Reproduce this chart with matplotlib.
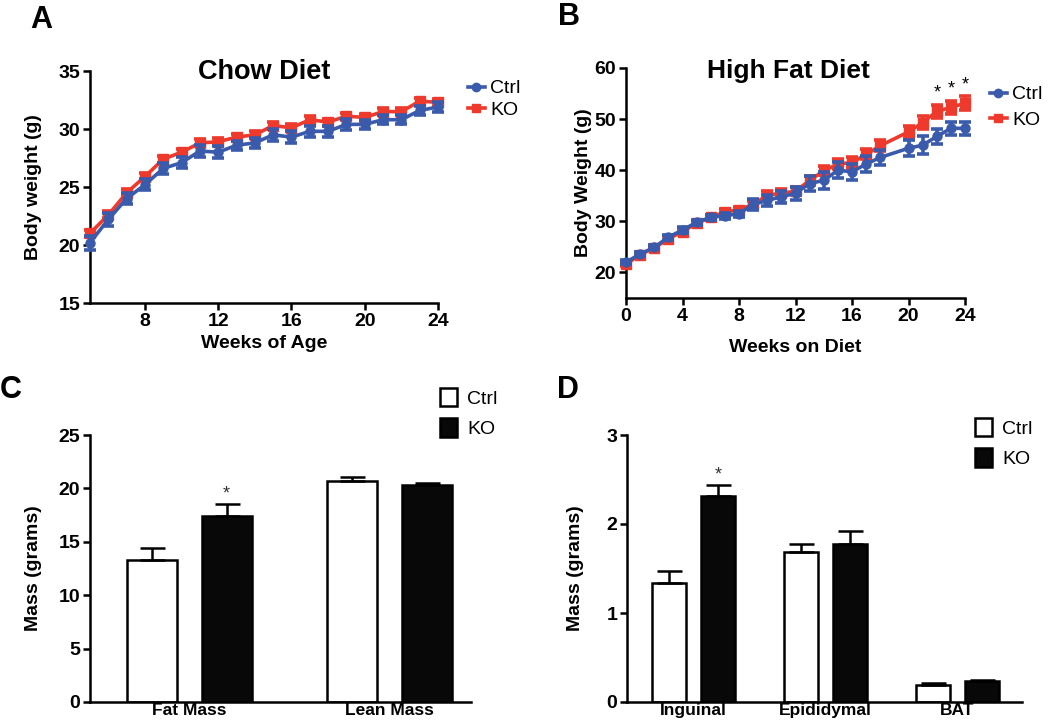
import numpy as np
import matplotlib.pyplot as plt
from matplotlib.lines import Line2D

plt.rcParams['font.family'] = ['Liberation Sans', 'DejaVu Sans']

# ---- dados ----
# A: dieta chow, semanas de idade
semanas_a = list(range(5, 25))
ko_a = [21.0, 22.6, 24.5, 25.9, 27.4, 28.0, 28.8, 28.9, 29.3, 29.5,
        30.3, 30.1, 30.8, 30.6, 31.1, 31.0, 31.5, 31.5, 32.4, 32.3]
ko_a_err = [0.3, 0.3, 0.3, 0.3, 0.3, 0.3, 0.3, 0.3, 0.3, 0.3,
            0.3, 0.3, 0.3, 0.3, 0.3, 0.3, 0.3, 0.3, 0.3, 0.3]
ctrl_a = [20.2, 22.2, 24.0, 25.2, 26.6, 27.1, 28.1, 28.0, 28.6, 28.8,
          29.5, 29.3, 29.8, 29.8, 30.4, 30.4, 30.8, 30.8, 31.6, 31.9]
ctrl_a_err = [0.6, 0.6, 0.5, 0.5, 0.5, 0.5, 0.5, 0.5, 0.4, 0.4,
              0.5, 0.5, 0.5, 0.5, 0.5, 0.4, 0.4, 0.4, 0.4, 0.4]

# B: dieta rica em gordura, semanas na dieta (sem semana 19)
semanas_b = list(range(0, 19)) + [20, 21, 22, 23, 24]
ko_b = [21.6, 23.5, 24.8, 26.6, 28.0, 29.6, 30.8, 31.8, 32.3, 33.3, 35.1, 35.5,
        35.9, 38.0, 39.9, 41.2, 41.5, 43.1, 44.8, 47.5, 49.3, 51.5, 52.3, 53.1]
ko_b_err = [0.4, 0.4, 0.4, 0.5, 0.5, 0.5, 0.5, 0.6, 0.6, 0.7, 0.8, 0.8,
            0.8, 0.9, 0.9, 1.0, 1.0, 1.0, 1.1, 1.2, 1.3, 1.3, 1.3, 1.4]
ctrl_b = [22.0, 23.6, 24.9, 26.9, 28.3, 29.8, 30.8, 31.1, 31.5, 33.3, 34.1, 34.8,
          35.5, 37.4, 38.0, 40.0, 39.7, 41.2, 42.5, 44.3, 44.9, 46.6, 48.2, 48.2]
ctrl_b_err = [0.4, 0.4, 0.4, 0.5, 0.5, 0.5, 0.5, 0.6, 0.6, 1.1, 1.1, 1.2,
              1.3, 1.4, 1.6, 1.6, 1.6, 1.6, 1.5, 1.6, 1.7, 1.5, 1.3, 1.3]
estrelas_b = [22, 23, 24]

# C: massa de gordura e magra
cat_c = ['Fat Mass', 'Lean Mass']
ctrl_c = [13.3, 20.7]
ctrl_c_err = [1.1, 0.4]
ko_c = [17.4, 20.3]
ko_c_err = [1.1, 0.25]

# D: depósitos de gordura
cat_d = ['Inguinal', 'Epididymal', 'BAT']
ctrl_d = [1.34, 1.69, 0.19]
ctrl_d_err = [0.13, 0.08, 0.02]
ko_d = [2.32, 1.77, 0.24]
ko_d_err = [0.12, 0.15, 0.01]

azul = '#3a5aab'
vermelho = '#ee3a2c'

W, H = 1050, 723
fig = plt.figure(figsize=(W / 100, H / 100), dpi=100)


def eixo(esq, dir, topo, base):
    # cria eixo a partir de coordenadas em pixels
    return fig.add_axes([esq / W, 1 - base / H, (dir - esq) / W, (base - topo) / H])


def estilo(ax):
    for s in ['top', 'right']:
        ax.spines[s].set_visible(False)
    for s in ['left', 'bottom']:
        ax.spines[s].set_linewidth(1.8)
    ax.tick_params(direction='out', width=1.8, length=5, labelsize=14, pad=2)
    for t in ax.get_xticklabels() + ax.get_yticklabels():
        t.set_fontweight('bold')


def linhas(ax, x, ko, ko_err, ctrl, ctrl_err):
    ax.errorbar(x, ko, yerr=ko_err, color=vermelho, marker='s', ms=6.5, lw=2.6,
                elinewidth=2.6, capsize=4, capthick=2.6, clip_on=False, zorder=3)
    ax.errorbar(x, ctrl, yerr=ctrl_err, color=azul, marker='o', ms=6.5, lw=2.6,
                elinewidth=2.6, capsize=4, capthick=2.6, clip_on=False, zorder=4)
    h = [Line2D([], [], color=azul, marker='o', ms=6, lw=2.6),
         Line2D([], [], color=vermelho, marker='s', ms=6, lw=2.6)]
    return h, ['Ctrl', 'KO']


# ---- A ----
axA = eixo(90, 438, 71, 303)
h, l = linhas(axA, semanas_a, ko_a, ko_a_err, ctrl_a, ctrl_a_err)
axA.set_xlim(5, 24)
axA.set_ylim(15, 35)
axA.set_xticks([8, 12, 16, 20, 24])
axA.set_yticks([15, 20, 25, 30, 35])
axA.set_xlabel('Weeks of Age', fontsize=14, fontweight='bold', labelpad=4)
axA.set_ylabel('Body weight (g)', fontsize=14, fontweight='bold', labelpad=12)
axA.set_title('Chow Diet', fontsize=19.5, fontweight='bold', x=0.5, y=0.93)
estilo(axA)
axA.legend(h, l, loc='upper left', bbox_to_anchor=(458 / W, 1 - 70 / H),
           bbox_transform=fig.transFigure, frameon=False, fontsize=14,
           handlelength=0.9, handletextpad=0.25, labelspacing=0.2, borderpad=0)

# ---- B ----
axB = eixo(626, 965, 68, 298)
h, l = linhas(axB, semanas_b, ko_b, ko_b_err, ctrl_b, ctrl_b_err)
for s in estrelas_b:
    i = semanas_b.index(s)
    axB.text(s, ko_b[i] + ko_b_err[i] + 0.6, '*', ha='center', va='bottom', fontsize=13)
axB.set_xlim(0, 24)
axB.set_ylim(15, 60)
axB.set_xticks(range(0, 25, 4))
axB.set_yticks(range(20, 61, 10))
axB.set_xlabel('Weeks on Diet', fontsize=14, fontweight='bold', labelpad=10)
axB.set_ylabel('Body Weight (g)', fontsize=14, fontweight='bold', labelpad=2)
axB.set_title('High Fat Diet', fontsize=19, fontweight='bold', x=0.48, y=0.92)
estilo(axB)
axB.legend(h, l, loc='upper left', bbox_to_anchor=(980 / W, 1 - 76 / H),
           bbox_transform=fig.transFigure, frameon=False, fontsize=14,
           handlelength=0.9, handletextpad=0.25, labelspacing=0.4, borderpad=0)


def barras(ax, cats, ctrl, ctrl_err, ko, ko_err, desloc, larg):
    x = np.arange(len(cats))
    kw = dict(edgecolor='black', linewidth=1.8, width=larg,
              error_kw=dict(ecolor='black', elinewidth=1.8, capsize=9, capthick=1.8))
    ax.bar(x - desloc, ctrl, yerr=[np.zeros(len(cats)), ctrl_err], color='white',
           label='Ctrl', **kw)
    ax.bar(x + desloc, ko, yerr=[np.zeros(len(cats)), ko_err], color='#080808',
           label='KO', **kw)
    ax.set_xticks(x)
    ax.set_xticklabels(cats)
    return x


# ---- C ----
axC = eixo(90, 471, 435, 702)
x = barras(axC, cat_c, ctrl_c, ctrl_c_err, ko_c, ko_c_err, 0.1875, 0.25)
axC.text(x[0] + 0.1875, ko_c[0] + ko_c_err[0] + 0.2, '*', ha='center', va='bottom',
         fontsize=13, color='#333333')
axC.set_xlim(-0.495, 1.41)
axC.set_ylim(0, 25)
axC.set_yticks(range(0, 26, 5))
axC.set_ylabel('Mass (grams)', fontsize=14, fontweight='bold', labelpad=12)
estilo(axC)
axC.tick_params(axis='x', length=0, pad=0.5, labelsize=12.5)
axC.legend(loc='upper left', bbox_to_anchor=(430 / W, 1 - 378 / H),
           bbox_transform=fig.transFigure, frameon=False, fontsize=14,
           handlelength=0.9, handleheight=1.1, handletextpad=0.5, labelspacing=0.55,
           borderpad=0)

# ---- D ----
axD = eixo(627, 1022, 435, 702)
x = barras(axD, cat_d, ctrl_d, ctrl_d_err, ko_d, ko_d_err, 0.1856, 0.2576)
axD.text(x[0] + 0.1856, ko_d[0] + ko_d_err[0] + 0.02, '*', ha='center', va='bottom',
         fontsize=13, color='#333333')
axD.set_xlim(-0.504, 2.49)
axD.set_ylim(0, 3)
axD.set_yticks([0, 1, 2, 3])
axD.set_ylabel('Mass (grams)', fontsize=14, fontweight='bold', labelpad=16)
estilo(axD)
axD.tick_params(axis='x', length=0, pad=0.5, labelsize=12.5)
axD.legend(loc='upper left', bbox_to_anchor=(965 / W, 1 - 408 / H),
           bbox_transform=fig.transFigure, frameon=False, fontsize=14,
           handlelength=0.9, handleheight=1.1, handletextpad=0.5, labelspacing=0.55,
           borderpad=0)

# letras dos painéis
for letra, px, py in [('A', 30, 5), ('B', 558, 2), ('C', 0, 375), ('D', 557, 375)]:
    fig.text(px / W, 1 - py / H, letra, fontsize=22, fontweight='bold', va='top', ha='left')

fig.savefig('out.png', dpi=100)
